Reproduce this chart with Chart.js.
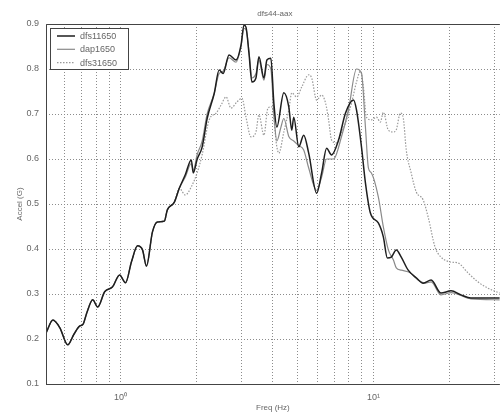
<!DOCTYPE html>
<html><head><meta charset="utf-8">
<script src="https://cdn.jsdelivr.net/npm/chart.js@4/dist/chart.umd.min.js"></script>
<style>html,body{margin:0;padding:0;background:#fff}</style>
</head><body>
<canvas id="c" width="502" height="417"></canvas>
<script>
// ---- data ----
const chartTitle = 'dfs44-aax';
const seriesNames = ['dfs11650', 'dap1650', 'dfs31650'];
const xTickValues = [0.6,0.7,0.8,0.9,1,2,3,4,5,6,7,8,9,10,20,30];
const yTickValues = [0.1,0.2,0.3,0.4,0.5,0.6,0.7,0.8,0.9];

// common low-frequency part (all three curves overlap)
const freqShared = [0.507,0.540,0.575,0.618,0.653,0.690,0.709,0.735,0.776,0.812,0.865,0.930,0.991,1.046,1.105,1.167,1.221,1.266,1.337,1.399,1.490,1.531,1.632,1.707];
const accShared  = [0.213,0.242,0.225,0.187,0.210,0.229,0.232,0.258,0.287,0.271,0.305,0.316,0.342,0.325,0.372,0.407,0.398,0.362,0.438,0.460,0.462,0.487,0.504,0.535];

const freqDfs1 = [1.803,1.904,1.939,2.010,2.103,2.200,2.345,2.454,2.544,2.686,2.862,2.995,3.077,3.134,3.220,3.309,3.431,3.526,3.690,3.791,3.931,4.040,4.151,4.423,4.628,4.755,4.842,5.068,5.302,5.548,5.966,6.242,6.531,6.834,7.282,7.759,8.344,8.574,8.972,9.301,9.732,10.46,10.95,11.36,11.77,12.32,12.89,13.73,14.77,15.74,16.92,18.52,20.28,22.21,24.31,31.62];
const accDfs1  = [0.565,0.598,0.569,0.600,0.627,0.690,0.745,0.798,0.790,0.831,0.820,0.853,0.898,0.893,0.835,0.771,0.780,0.827,0.780,0.820,0.824,0.724,0.671,0.747,0.716,0.664,0.693,0.627,0.653,0.613,0.524,0.569,0.624,0.609,0.642,0.702,0.731,0.709,0.627,0.547,0.480,0.458,0.427,0.380,0.382,0.398,0.382,0.353,0.336,0.324,0.331,0.302,0.307,0.298,0.291,0.291];

const freqDap = [1.803,1.904,1.939,2.010,2.103,2.200,2.345,2.454,2.544,2.686,2.862,2.995,3.077,3.134,3.220,3.309,3.431,3.526,3.690,3.791,3.931,4.040,4.151,4.305,4.423,4.628,4.842,5.068,5.302,5.548,5.966,6.242,6.531,6.959,7.482,7.973,8.574,8.972,9.301,9.557,9.820,10.46,10.95,11.46,11.99,12.32,12.89,13.99,15.04,16.03,16.92,18.52,20.28,24.31,31.62];
const accDap  = [0.560,0.590,0.575,0.610,0.640,0.700,0.745,0.790,0.795,0.825,0.815,0.850,0.890,0.888,0.840,0.780,0.790,0.820,0.775,0.810,0.800,0.700,0.640,0.670,0.690,0.650,0.640,0.630,0.620,0.580,0.530,0.560,0.600,0.600,0.650,0.710,0.800,0.791,0.671,0.580,0.569,0.516,0.449,0.398,0.376,0.358,0.353,0.347,0.331,0.324,0.327,0.298,0.303,0.289,0.287];

const freqDfs3 = [1.803,1.904,2.010,2.103,2.241,2.388,2.498,2.614,2.735,2.888,3.022,3.134,3.279,3.431,3.526,3.690,3.826,3.967,4.151,4.227,4.423,4.628,4.755,4.976,5.207,5.548,5.701,5.966,6.242,6.471,6.650,6.834,7.151,7.482,7.829,8.193,8.574,8.890,9.134,9.385,9.820,10.28,10.66,10.95,11.46,11.99,12.32,12.78,13.13,13.49,14.11,14.77,15.74,16.47,17.54,18.52,20.28,21.61,23.66,25.91,28.37,31.62];
const accDfs3  = [0.520,0.538,0.570,0.610,0.687,0.702,0.720,0.738,0.713,0.727,0.735,0.693,0.649,0.660,0.698,0.653,0.713,0.716,0.627,0.613,0.660,0.709,0.747,0.738,0.760,0.787,0.780,0.731,0.742,0.724,0.687,0.642,0.636,0.658,0.687,0.724,0.771,0.795,0.760,0.693,0.687,0.693,0.682,0.704,0.664,0.660,0.665,0.702,0.691,0.620,0.569,0.527,0.509,0.471,0.404,0.382,0.371,0.369,0.347,0.327,0.313,0.302];

function pts(fa, va) {
  const f = freqShared.concat(fa), v = accShared.concat(va);
  return f.map((x, i) => ({x: x, y: v[i]}));
}

const FONT = '"Liberation Sans", Arial, sans-serif';
const TXT = '#666';

const frame = {
  id: 'frame',
  afterDatasetsDraw(chart) {
    const {ctx, chartArea: a} = chart;
    ctx.save();
    ctx.strokeStyle = '#444'; ctx.lineWidth = 1;
    ctx.beginPath();
    ctx.moveTo(a.left + 0.5, a.bottom + 0.5);
    ctx.lineTo(a.left + 0.5, a.top + 0.5);
    ctx.lineTo(a.right, a.top + 0.5);
    ctx.moveTo(a.left, a.bottom + 0.5);
    ctx.lineTo(a.right, a.bottom + 0.5);
    ctx.stroke();
    // title
    ctx.fillStyle = TXT; ctx.font = '8px ' + FONT;
    ctx.textAlign = 'center'; ctx.textBaseline = 'middle';
    ctx.fillText(chartTitle, (a.left + a.right) / 2 + 2, 14);
    // legend
    const bx = 50, by = 28, bw = 78, bh = 41;
    ctx.fillStyle = '#fff'; ctx.fillRect(bx, by, bw, bh);
    ctx.strokeStyle = '#444'; ctx.strokeRect(bx + 0.5, by + 0.5, bw, bh);
    chart.data.datasets.forEach((ds, i) => {
      const y = by + 8 + i * 13.3;
      ctx.save();
      ctx.strokeStyle = ds.borderColor; ctx.lineWidth = ds.borderWidth;
      ctx.setLineDash(ds.borderDash || []);
      ctx.beginPath(); ctx.moveTo(bx + 7, y); ctx.lineTo(bx + 25, y); ctx.stroke();
      ctx.restore();
      ctx.fillStyle = TXT; ctx.font = '9px ' + FONT;
      ctx.textAlign = 'left'; ctx.textBaseline = 'middle';
      ctx.fillText(ds.label, bx + 30, y + 0.5);
    });
    ctx.restore();
  }
};

new Chart(document.getElementById('c').getContext('2d'), {
  type: 'line',
  data: {
    datasets: [
      {label: seriesNames[0], data: pts(freqDfs1, accDfs1), borderColor: '#1e1e1e', borderWidth: 1.5, cubicInterpolationMode: 'monotone'},
      {label: seriesNames[1], data: pts(freqDap, accDap), borderColor: '#8a8a8a', borderWidth: 1.2, cubicInterpolationMode: 'monotone'},
      {label: seriesNames[2], data: pts(freqDfs3, accDfs3), borderColor: '#999999', borderWidth: 1.2, borderDash: [1.5, 1.5], cubicInterpolationMode: 'monotone'}
    ]
  },
  options: {
    responsive: false, animation: false, devicePixelRatio: 1,
    layout: {padding: {top: 24, left: 0, right: 0, bottom: 0}},
    elements: {point: {radius: 0}},
    plugins: {legend: {display: false}, tooltip: {enabled: false}},
    scales: {
      x: {
        type: 'logarithmic', min: 0.507, max: 31.62,
        afterFit(s) { s.height = 33; },
        afterBuildTicks(s) { s.ticks = xTickValues.map(v => ({value: v})); },
        ticks: {
          autoSkip: false, maxRotation: 0, padding: 8, color: TXT,
          font: {size: 9, family: FONT},
          callback: (v) => v === 1 ? '10\u2070' : (v === 10 ? '10\u00b9' : '')
        },
        grid: {color: '#8c8c8c', lineWidth: 1, drawTicks: false},
        border: {display: false, dash: [1, 2]},
        title: {display: true, text: 'Freq (Hz)', color: TXT, font: {size: 8, family: FONT}, padding: {top: 0, bottom: 4}}
      },
      y: {
        type: 'linear', min: 0.1, max: 0.9,
        afterFit(s) { s.width = 46; },
        afterBuildTicks(s) { s.ticks = yTickValues.map(v => ({value: v})); },
        ticks: {
          padding: 7, color: TXT, font: {size: 9, family: FONT},
          callback: (v) => v.toFixed(1)
        },
        grid: {color: '#8c8c8c', lineWidth: 1, drawTicks: false},
        border: {display: false, dash: [1, 2]},
        title: {display: true, text: 'Accel (G)', color: TXT, font: {size: 8, family: FONT}, padding: {top: 15, bottom: 0}}
      }
    }
  },
  plugins: [frame]
});
</script>
</body></html>
